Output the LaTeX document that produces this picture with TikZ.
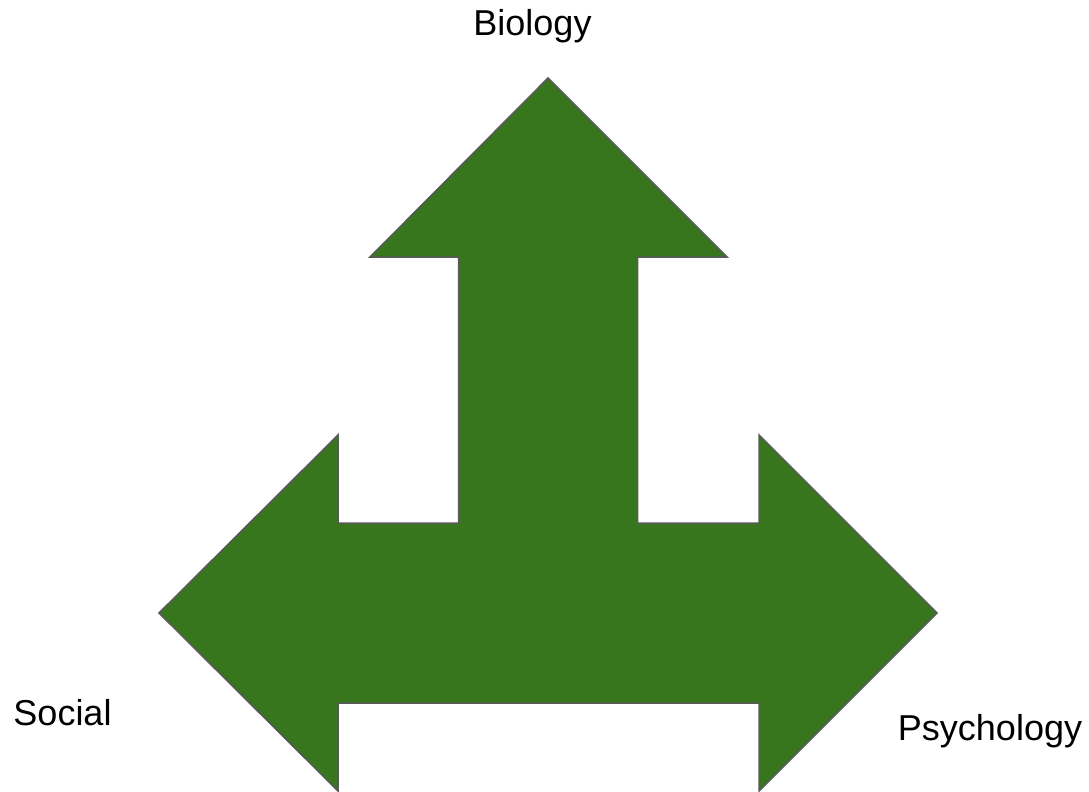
\documentclass[tikz,border=0pt]{standalone}
\usepackage{fontspec}
\setmainfont{Liberation Sans}
\definecolor{arrowgreen}{HTML}{38761D}
\definecolor{edgegrey}{HTML}{595959}
\begin{document}
\begin{tikzpicture}[x=1pt,y=-1pt,
  lbl/.style={anchor=base,inner sep=0pt,font=\fontsize{36}{43}\selectfont,text=black},
  shape3/.style={fill=arrowgreen,draw=edgegrey,line width=1.5pt,line join=miter}]
\useasboundingbox (0,0) rectangle (1089,792);
\draw[shape3] (548,78) -- (727,257) -- (637.5,257) -- (637.5,523) -- (759,523) -- (759,435)
  -- (937,613) -- (759,791) -- (759,703) -- (338,703) -- (338,791) -- (159,613)
  -- (338,435) -- (338,523) -- (458.5,523) -- (458.5,257) -- (370,257) -- cycle;
\node[lbl] (biology) at (532.5,36) {Biology};
\node[lbl] (social) at (62.5,725) {Social};
\node[lbl] (psychology) at (990,740) {Psychology};
\end{tikzpicture}
\end{document}
